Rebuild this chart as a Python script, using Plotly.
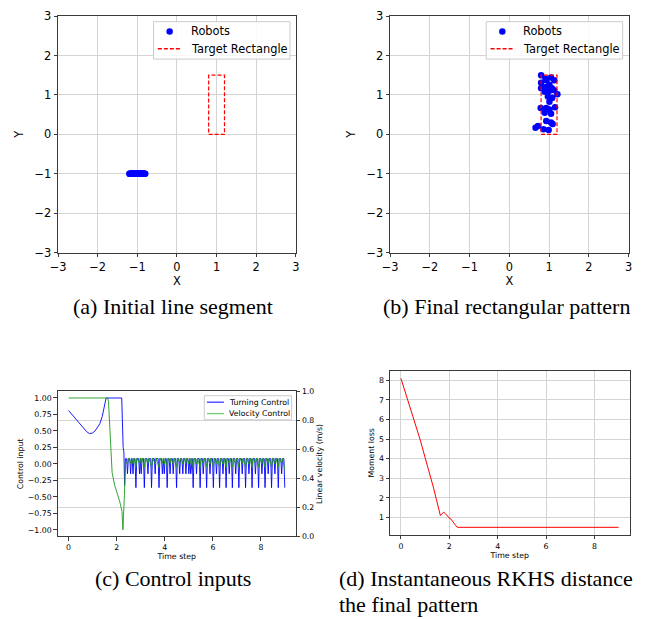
import plotly.graph_objects as go

# ---------------- data ----------------
# (a) initial robot positions on a short line segment at y = -1
init_x = [-1.20, -1.19, -1.18, -1.17, -1.16, -1.15, -1.14, -1.13, -1.12, -1.11,
          -1.10, -1.09, -1.08, -1.07, -1.06, -1.05, -1.04, -1.03, -1.02, -1.01,
          -1.00, -0.99, -0.98, -0.97, -0.96, -0.95, -0.94, -0.93, -0.92, -0.91,
          -0.90, -0.89, -0.88, -0.87, -0.86, -0.85, -0.84, -0.83, -0.82, -0.80]
init_y = [-1.0] * len(init_x)

# (b) final robot positions
final_x = [0.80, 1.05, 0.91, 1.13, 0.80, 1.01, 0.95, 1.07, 0.80, 1.13, 0.89, 1.21,
           0.97, 1.07, 1.01, 0.79, 0.93, 1.01, 1.15, 0.89, 1.05, 0.93, 1.05, 1.09,
           0.72, 0.66, 0.86, 0.99, 0.93, 1.00, 0.88, 1.08]
final_y = [1.50, 1.44, 1.41, 1.37, 1.31, 1.26, 1.21, 1.17, 1.17, 1.12, 1.08, 1.02,
           0.96, 0.92, 0.83, 0.67, 0.67, 0.63, 0.69, 0.55, 0.52, 0.34, 0.30, 0.26,
           0.21, 0.17, 0.13, 0.11, 1.37, 1.10, 1.19, 0.93]

# target rectangle corners
rect_x = [0.8, 1.2, 1.2, 0.8, 0.8]
rect_y = [0.0, 0.0, 1.5, 1.5, 0.0]

# (c) control inputs: transient part
turn_t = [0, 0.2, 0.4, 0.6, 0.75, 0.87, 1.0, 1.1, 1.2, 1.3, 1.4, 1.5, 1.56,
          2.21, 2.24, 2.27, 2.30, 2.33, 2.37]
turn_u = [0.81, 0.72, 0.64, 0.55, 0.49, 0.46, 0.47, 0.50, 0.55, 0.61, 0.72, 0.90, 1.00,
          1.00, 0.35, 0.25, 0.18, -0.33, 0.08]
vel_t = [0, 1.62, 1.66, 1.72, 1.76, 1.81, 1.92, 2.02, 2.12, 2.22, 2.26, 2.32, 2.36]
vel_u = [1.0, 1.0, 0.95, 0.56, 0.16, -0.13, -0.33, -0.44, -0.56, -0.72, -1.0, -0.48, 0.04]

# (c) control inputs: steady oscillation (dip times and dip values)
osc_t = [2.45, 2.58, 2.68, 2.80, 2.95, 3.02, 3.15, 3.30, 3.45, 3.60, 3.76, 3.90, 3.98,
         4.10, 4.22, 4.35, 4.49, 4.62, 4.75, 4.88, 5.00, 5.08, 5.18, 5.32, 5.47, 5.60,
         5.74, 5.88, 6.02, 6.15, 6.28, 6.42, 6.55, 6.68, 6.81, 6.95, 7.08, 7.22, 7.36,
         7.50, 7.63, 7.77, 7.90, 8.04, 8.17, 8.30, 8.44, 8.58, 8.72, 8.86, 8.99]
osc_turn = [-0.15, -0.15, -0.15, -0.36, -0.15, -0.15, -0.36, -0.15, -0.36, -0.15, -0.36,
            -0.15, -0.15, -0.36, -0.15, -0.15, -0.36, -0.15, -0.15, -0.15, -0.15, -0.15,
            -0.36, -0.15, -0.36, -0.15, -0.36, -0.15, -0.36, -0.15, -0.36, -0.15, -0.36,
            -0.15, -0.36, -0.15, -0.36, -0.15, -0.36, -0.15, -0.36, -0.15, -0.36, -0.15,
            -0.36, -0.15, -0.36, -0.15, -0.36, -0.15, -0.36]
osc_vel = [0.00, 0.01, 0.00, -0.05, 0.01, 0.00, -0.05, 0.01, -0.05, 0.00, -0.05,
           0.01, 0.00, -0.05, 0.01, 0.00, -0.05, 0.01, 0.00, 0.01, 0.00, 0.01,
           -0.05, 0.00, -0.05, 0.01, -0.05, 0.00, -0.05, 0.01, -0.05, 0.00, -0.05,
           0.01, -0.05, 0.00, -0.05, 0.01, -0.05, 0.00, -0.05, 0.01, -0.05, 0.00,
           -0.05, 0.01, -0.05, 0.00, -0.05, 0.01, -0.08]
turn_top = 0.08
vel_top = 0.09

# (d) moment loss
loss_t = [0, 0.26, 0.5, 0.8, 1.0, 1.2, 1.35, 1.47, 1.53, 1.58, 1.63, 1.70, 1.77, 1.84,
          1.92, 1.99, 2.07, 2.15, 2.23, 2.31, 2.36, 9.0]
loss_v = [8.1, 7.1, 6.1, 4.95, 4.05, 3.2, 2.5, 1.9, 1.6, 1.3, 1.1, 1.2, 1.27, 1.2,
          1.05, 0.98, 0.92, 0.81, 0.65, 0.52, 0.5, 0.5]

# ---------------- build oscillating traces ----------------
tx, ty = list(turn_t), list(turn_u)
for t, d in zip(osc_t, osc_turn):
    tx += [t - 0.035, t, t + 0.035]
    ty += [turn_top, d, turn_top]
tx, ty = tx[:-1], ty[:-1]

vx, vy = list(vel_t), list(vel_u)
for i, (t, d) in enumerate(zip(osc_t, osc_vel)):
    vx.append(t)
    vy.append(d)
    if i < len(osc_t) - 1:
        vx.append(t + 0.04)
        vy.append(vel_top)

# ---------------- figure ----------------
W, H = 645, 619
BIG = dict(family="DejaVu Sans", size=11.4, color="black")
SMALL = dict(family="DejaVu Sans", size=7.8, color="black")
GRID = "#d4d4d4"
FRAME = "#3a3a3a"
BLUE = "blue"
GREEN = "#1f9a1f"
RED = "red"


def dx(a, b):
    return [a / W, b / W]


def dy(top, bottom):
    return [1 - bottom / H, 1 - top / H]


def px(x):
    return x / W


def py(y):
    return 1 - y / H


fig = go.Figure()

# (a)
fig.add_trace(go.Scatter(x=init_x, y=init_y, mode="markers", name="Robots",
                         marker=dict(color=BLUE, size=6.5), xaxis="x", yaxis="y"))
fig.add_trace(go.Scatter(x=rect_x, y=rect_y, mode="lines", name="Target Rectangle",
                         line=dict(color=RED, dash="4px,2px", width=1.2),
                         xaxis="x", yaxis="y"))
# (b)
fig.add_trace(go.Scatter(x=final_x, y=final_y, mode="markers", name="Robots",
                         marker=dict(color=BLUE, size=6.5), xaxis="x2", yaxis="y2"))
fig.add_trace(go.Scatter(x=rect_x, y=rect_y, mode="lines", name="Target Rectangle",
                         line=dict(color=RED, dash="4px,2px", width=1.2),
                         xaxis="x2", yaxis="y2"))
# (c)
fig.add_trace(go.Scatter(x=tx, y=ty, mode="lines", name="Turning Control",
                         line=dict(color=BLUE, width=0.9), xaxis="x3", yaxis="y3"))
fig.add_trace(go.Scatter(x=vx, y=vy, mode="lines", name="Velocity Control",
                         line=dict(color=GREEN, width=0.9), xaxis="x3", yaxis="y3"))
# empty trace that carries the secondary (linear velocity) axis
fig.add_trace(go.Scatter(x=[None], y=[None], mode="lines", hoverinfo="skip",
                         xaxis="x3", yaxis="y4"))
# (d)
fig.add_trace(go.Scatter(x=loss_t, y=loss_v, mode="lines",
                         line=dict(color=RED, width=1), xaxis="x4", yaxis="y5"))

frame = dict(showline=True, mirror=True, linecolor=FRAME, linewidth=1,
             ticks="outside", ticklen=3.5, tickcolor=FRAME, zeroline=False)

pos_ax = dict(range=[-3, 3], dtick=1, showgrid=True, gridcolor=GRID, gridwidth=1,
              tickfont=BIG, **frame)

fig.update_layout(
    width=W, height=H, margin=dict(l=0, r=0, t=0, b=0),
    paper_bgcolor="white", plot_bgcolor="white", showlegend=False,
    xaxis=dict(domain=dx(51, 293.3), anchor="y",
               title=dict(text="X", font=BIG, standoff=1), **pos_ax),
    yaxis=dict(domain=dy(9.3, 251.3), anchor="x",
               title=dict(text="Y", font=BIG, standoff=8), **pos_ax),
    xaxis2=dict(domain=dx(389.3, 632.3), anchor="y2",
                title=dict(text="X", font=BIG, standoff=1), **pos_ax),
    yaxis2=dict(domain=dy(9.3, 251.3), anchor="x2",
                title=dict(text="Y", font=BIG, standoff=8), **pos_ax),
    xaxis3=dict(domain=dx(50.7, 293.3), anchor="y3", range=[-0.45, 9.45],
                tickvals=[0, 2, 4, 6, 8], showgrid=False, tickfont=SMALL,
                title=dict(text="Time step", font=SMALL, standoff=1), **frame),
    yaxis3=dict(domain=dy(393.3, 541.7), anchor="x3", range=[-1.1, 1.1],
                tickvals=[-1, -0.75, -0.5, -0.25, 0, 0.25, 0.5, 0.75, 1.0],
                tickformat=".2f", showgrid=False, tickfont=SMALL,
                title=dict(text="Control input", font=SMALL, standoff=3), **frame),
    yaxis4=dict(domain=dy(393.3, 541.7), anchor="x3", overlaying="y3", side="right",
                range=[0, 1], tickvals=[0, 0.2, 0.4, 0.6, 0.8, 1.0], tickformat=".1f",
                showgrid=True, gridcolor=GRID, gridwidth=1, tickfont=SMALL,
                showline=True, linecolor=FRAME, linewidth=1, ticks="outside",
                ticklen=3.5, tickcolor=FRAME, zeroline=False,
                title=dict(text="Linear velocity (m/s)", font=SMALL, standoff=3)),
    xaxis4=dict(domain=dx(389.3, 633.3), anchor="y5", range=[-0.45, 9.45],
                tickvals=[0, 2, 4, 6, 8], showgrid=True, gridcolor=GRID, tickfont=SMALL,
                title=dict(text="Time step", font=SMALL, standoff=1), **frame),
    yaxis5=dict(domain=dy(372.3, 540), anchor="x4", range=[0.12, 8.48],
                tickvals=[1, 2, 3, 4, 5, 6, 7, 8], showgrid=True, gridcolor=GRID,
                tickfont=SMALL,
                title=dict(text="Moment loss", font=SMALL, standoff=3), **frame),
)


# ---------------- legends (drawn as boxes with keys and labels) ----------------
def legend_box(x0, y0, x1, y1):
    fig.add_shape(type="rect", xref="paper", yref="paper",
                  x0=px(x0), x1=px(x1), y0=py(y1), y1=py(y0),
                  line=dict(color="#cccccc", width=1), fillcolor="rgba(255,255,255,0.85)",
                  layer="above")


def legend_line(x0, x1, y, color, dash="solid", width=1.2):
    fig.add_shape(type="line", xref="paper", yref="paper",
                  x0=px(x0), x1=px(x1), y0=py(y), y1=py(y),
                  line=dict(color=color, dash=dash, width=width), layer="above")


def legend_dot(x, y, r, color):
    fig.add_shape(type="circle", xref="paper", yref="paper",
                  x0=px(x - r), x1=px(x + r), y0=py(y + r), y1=py(y - r),
                  line=dict(color=color, width=0), fillcolor=color, layer="above")


def legend_text(x, y, text, font):
    fig.add_annotation(text=text, x=px(x), y=py(y), xref="paper", yref="paper",
                       xanchor="left", yanchor="middle", showarrow=False, font=font)


for off in (0, 339):
    legend_box(148.3 + off, 15, 287.3 + off, 53.3)
    legend_dot(164.7 + off, 25, 3.3, BLUE)
    legend_text(184 + off, 25, "Robots", BIG)
    legend_line(152.7 + off, 175.7 + off, 42.7, RED, dash="4px,2px", width=1.4)
    legend_text(184 + off, 42.7, "Target Rectangle", BIG)

legend_box(200, 397.7, 289, 422.3)
legend_line(202.7, 220, 404.3, BLUE, width=1)
legend_text(223.5, 404.3, "Turning Control", SMALL)
legend_line(202.7, 220, 416, "#7fcc7f", width=1.4)
legend_text(223.5, 416, "Velocity Control", SMALL)

# ---------------- sub-figure captions ----------------
CAP = dict(family="Liberation Serif", size=22, color="black")
captions = [
    ("(a) Initial line segment", 168, 306, "center"),
    ("(b) Final rectangular pattern", 508, 306, "center"),
    ("(c) Control inputs", 168, 585, "center"),
    ("(d) Instantaneous RKHS distance", 336, 585, "left"),
    ("the final pattern", 336, 611, "left"),
]
for text, x, y, anchor in captions:
    fig.add_annotation(text=text, x=px(x), y=py(y), xref="paper", yref="paper",
                       xanchor=anchor, yanchor="middle", showarrow=False, font=CAP,
                       borderpad=0)

fig.write_html("out.html")
